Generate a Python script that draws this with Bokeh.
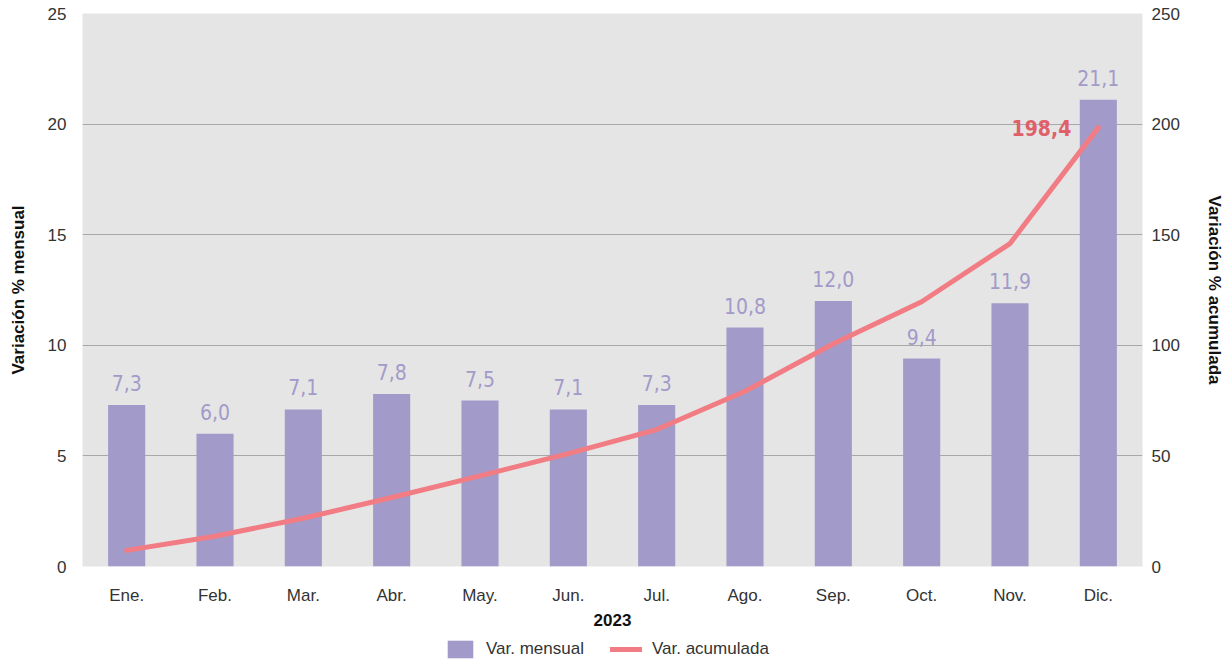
from bokeh.plotting import figure
from bokeh.layouts import column
from bokeh.models import (FactorRange, Range1d, LinearAxis, FixedTicker, Legend, LegendItem,
                          ColumnDataSource)
from bokeh.core.properties import value
from bokeh.embed import file_html
from bokeh.resources import INLINE

months = ["Ene.", "Feb.", "Mar.", "Abr.", "May.", "Jun.", "Jul.", "Ago.", "Sep.", "Oct.", "Nov.", "Dic."]
monthly = [7.3, 6.0, 7.1, 7.8, 7.5, 7.1, 7.3, 10.8, 12.0, 9.4, 11.9, 21.1]
cumulative = [7.3, 13.7, 21.8, 31.2, 41.0, 51.0, 61.9, 79.2, 100.7, 119.7, 146.0, 198.4]
left_ticks = [0, 5, 10, 15, 20, 25]
right_ticks = [0, 50, 100, 150, 200, 250]
x_title = "2023"
series_names = ["Var. mensual", "Var. acumulada"]

BAR = "#a29bc9"
LINE = "#f27c84"
FONT = "Liberation Sans"
NARROW = "'DejaVu Sans Condensed', 'Roboto Condensed', 'Liberation Sans Narrow', 'Roboto', sans-serif"
W = 1226

src = ColumnDataSource(dict(
    m=months, v=monthly, c=cumulative,
    lab=[f"{x:.1f}".replace(".", ",") for x in monthly],
))

p = figure(width=W, height=632, output_backend="svg", toolbar_location=None,
           x_range=FactorRange(*months, range_padding=0),
           y_range=Range1d(0, 25),
           min_border_left=82, min_border_right=84, min_border_top=13, min_border_bottom=66)
p.extra_y_ranges = {"acc": Range1d(0, 250)}

p.background_fill_color = "#e5e5e5"
p.border_fill_color = "white"
p.outline_line_color = None
p.xgrid.grid_line_color = None
p.ygrid.grid_line_color = "#a8a8a8"
p.ygrid.grid_line_width = 1
p.ygrid.ticker = FixedTicker(ticks=left_ticks)

p.vbar(x="m", top="v", width=0.42, source=src, color=BAR, line_color=None)
p.line(x="m", y="c", source=src, y_range_name="acc", line_color=LINE, line_width=5,
       line_cap="round", line_join="round")

p.text(x="m", y="v", text="lab", source=src, text_align="center", text_baseline="bottom",
       y_offset=-14, text_color=BAR, text_font=value(NARROW), text_font_size="21px")
p.text(x=[months[-1]], y=[cumulative[-1]], text=[f"{cumulative[-1]:.1f}".replace(".", ",")],
       y_range_name="acc", text_align="right", text_baseline="middle", x_offset=-27, y_offset=0,
       text_color="#e0606a", text_font=value(NARROW), text_font_size="21px", text_font_style="bold")

def style_axis(ax):
    ax.axis_line_color = None
    ax.major_tick_line_color = None
    ax.minor_tick_line_color = None
    ax.major_label_text_font = FONT
    ax.major_label_text_font_size = "17px"
    ax.major_label_text_color = "#333333"
    ax.axis_label_text_font = FONT
    ax.axis_label_text_font_size = "17px"
    ax.axis_label_text_font_style = "bold"
    ax.axis_label_text_color = "#111111"

ly = p.yaxis[0]
ly.ticker = FixedTicker(ticks=left_ticks)
ly.axis_label = "Variación % mensual"
ly.major_label_standoff = 10
ly.axis_label_standoff = 17
style_axis(ly)

ry = LinearAxis(y_range_name="acc", ticker=FixedTicker(ticks=right_ticks),
                axis_label="Variación % acumulada")
ry.major_label_standoff = 3
ry.axis_label_standoff = 22
style_axis(ry)
p.add_layout(ry, "right")

xa = p.xaxis[0]
xa.axis_label = x_title
xa.major_label_standoff = 13
xa.axis_label_standoff = 6
style_axis(xa)

# legend strip
lg = figure(width=W, height=30, output_backend="svg", toolbar_location=None,
            x_range=Range1d(0, 1), y_range=Range1d(0, 1),
            x_axis_type=None, y_axis_type=None, min_border=0)
lg.outline_line_color = None
lg.grid.grid_line_color = None
lb = lg.vbar(x=[0.5], top=[0], bottom=[0], width=0, color=BAR, line_color=None)
ll = lg.line(x=[0.5, 0.5], y=[50, 50], line_color=LINE, line_width=5, line_cap="round")
legend = Legend(items=[LegendItem(label=series_names[0], renderers=[lb]),
                       LegendItem(label=series_names[1], renderers=[ll])],
                orientation="horizontal", location=(362, 2),
                label_text_font=FONT, label_text_font_size="17px", label_text_color="#333333",
                label_standoff=10, glyph_width=32, glyph_height=22, spacing=26, padding=0, margin=0,
                border_line_color=None, background_fill_alpha=0)
lg.add_layout(legend, "center")

layout = column(p, lg, spacing=0)
open("out.html", "w").write(file_html(layout, INLINE))
